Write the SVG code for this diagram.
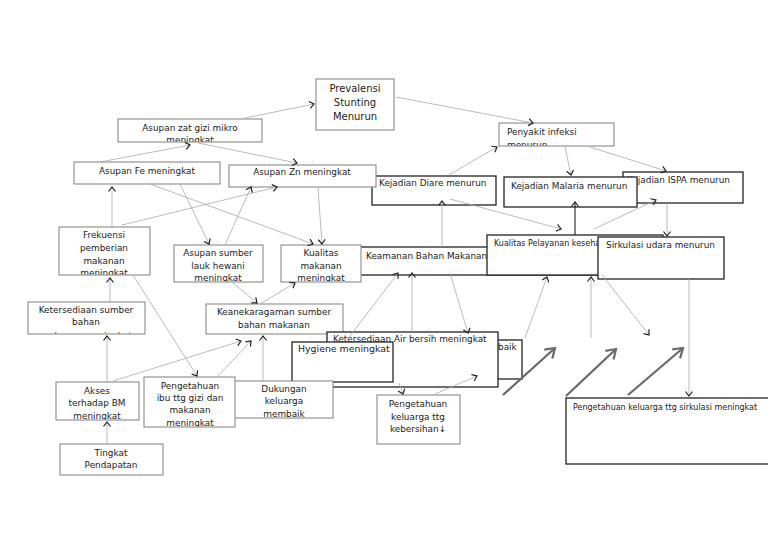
<svg xmlns="http://www.w3.org/2000/svg" width="768" height="543" viewBox="0 0 768 543">
<style>
.g{fill:#fff;stroke:#8a8a8a;stroke-width:1.1}
.k{fill:#fff;stroke:#222;stroke-width:1.3}
.t{font-family:"DejaVu Sans",Verdana,sans-serif;font-size:8.9px;fill:#222}
.c{text-anchor:middle}
.s{font-size:8px}
.ln{stroke:#aaa;stroke-width:0.8;fill:none;marker-end:url(#a)}
.lk{stroke:#222;stroke-width:1.1;fill:none;marker-end:url(#a)}
.th{stroke:#6a6a6a;stroke-width:2.3;fill:none;marker-end:url(#b)}
</style>
<defs>
<marker id="a" viewBox="-6 -5 7 10" refX="0" refY="0" markerWidth="7" markerHeight="10" markerUnits="userSpaceOnUse" orient="auto">
<path d="M-4.5,-3.5 L0,0 L-4.5,3.5" fill="none" stroke="#222" stroke-width="1.2"/>
</marker>
<marker id="b" viewBox="-11 -8 13 16" refX="0" refY="0" markerWidth="13" markerHeight="16" markerUnits="userSpaceOnUse" orient="auto">
<path d="M-9,-6 L0,0 L-9,6" fill="none" stroke="#6a6a6a" stroke-width="2.2"/>
</marker>
<clipPath id="cZat"><rect x="118" y="119" width="144" height="22.5"/></clipPath>
<clipPath id="cPen"><rect x="499" y="123" width="115" height="22.5"/></clipPath>
<clipPath id="cFrek"><rect x="59" y="227" width="91" height="47.5"/></clipPath>
<clipPath id="cLauk"><rect x="174" y="245" width="89" height="36.5"/></clipPath>
<clipPath id="cKual"><rect x="281" y="245" width="80" height="36.5"/></clipPath>
<clipPath id="cKet"><rect x="28" y="302" width="117" height="31.5"/></clipPath>
<clipPath id="cAks"><rect x="56" y="382" width="83" height="37.5"/></clipPath>
<clipPath id="cIbu"><rect x="144" y="377" width="91" height="49.5"/></clipPath>
<clipPath id="cDuk"><rect x="230" y="381" width="103" height="36.5"/></clipPath>
</defs>
<rect width="768" height="543" fill="#fff"/>

<g id="prevalensi"><rect class="g" x="316" y="79" width="78" height="51"/>
<text class="t c" x="355" y="92" style="font-size:10px">Prevalensi</text>
<text class="t c" x="355" y="106" style="font-size:10px">Stunting</text>
<text class="t c" x="355" y="120" style="font-size:10px">Menurun</text></g>

<g id="zatgizi"><rect class="g" x="118" y="119" width="144" height="23"/>
<g clip-path="url(#cZat)"><text class="t c" x="190" y="131">Asupan zat gizi mikro</text>
<text class="t c" x="190" y="143">meningkat</text></g></g>

<g id="fe"><rect class="g" x="74" y="162" width="146" height="22"/>
<text class="t c" x="147" y="174">Asupan Fe meningkat</text></g>

<g id="penyakit"><rect class="g" x="499" y="123" width="115" height="23"/>
<g clip-path="url(#cPen)"><text class="t" x="507" y="135">Penyakit infeksi</text>
<text class="t" x="507" y="148">menurun</text></g></g>

<g id="diare"><rect class="k" x="372" y="176" width="124" height="29"/>
<text class="t" x="379" y="186">Kejadian Diare menurun</text></g>

<g id="zn"><rect class="g" x="229" y="165" width="147" height="22"/>
<text class="t c" x="302" y="175">Asupan Zn meningkat</text></g>

<g id="ispa"><rect class="k" x="623" y="172" width="120" height="31"/>
<text class="t" x="627" y="183">Kejadian ISPA menurun</text></g>

<g id="malaria"><rect class="k" x="504" y="177" width="133" height="30"/>
<text class="t" x="511" y="189">Kejadian Malaria menurun</text></g>

<g id="frekuensi"><rect class="g" x="59" y="227" width="91" height="48"/>
<g clip-path="url(#cFrek)"><text class="t c" x="104" y="238">Frekuensi</text>
<text class="t c" x="104" y="251">pemberian</text>
<text class="t c" x="104" y="264">makanan</text>
<text class="t c" x="104" y="276">meningkat</text></g></g>

<g id="lauk"><rect class="g" x="174" y="245" width="89" height="37"/>
<g clip-path="url(#cLauk)"><text class="t c" x="218" y="256">Asupan sumber</text>
<text class="t c" x="218" y="269">lauk hewani</text>
<text class="t c" x="218" y="281">meningkat</text></g></g>

<g id="keamanan"><rect class="k" x="345" y="247" width="255" height="28"/>
<text class="t" x="366" y="259">Keamanan Bahan Makanan</text></g>

<g id="kualitas"><rect class="g" x="281" y="245" width="80" height="37"/>
<g clip-path="url(#cKual)"><text class="t c" x="321" y="256">Kualitas</text>
<text class="t c" x="321" y="269">makanan</text>
<text class="t c" x="321" y="281">meningkat</text></g></g>

<g id="pelayanan"><rect class="k" x="487" y="235" width="176" height="40"/>
<text class="t s" x="494" y="246">Kualitas Pelayanan kesehatan</text></g>

<g id="sirkulasi"><rect class="k" x="598" y="237" width="126" height="42"/>
<text class="t" x="606" y="248">Sirkulasi udara menurun</text></g>

<g id="ketsumber"><rect class="g" x="28" y="302" width="117" height="32"/>
<g clip-path="url(#cKet)"><text class="t c" x="86" y="313">Ketersediaan sumber</text>
<text class="t c" x="86" y="325">bahan</text>
<text class="t c" x="86" y="339">makanan meningkat</text></g></g>

<g id="keaneka"><rect class="g" x="206" y="304" width="137" height="30"/>
<text class="t c" x="274" y="315">Keanekaragaman sumber</text>
<text class="t c" x="274" y="328">bahan makanan</text></g>

<g id="baik"><rect class="k" x="420" y="340" width="102" height="39"/>
<text class="t" x="498" y="350">baik</text></g>

<g id="air"><rect class="k" x="327" y="332" width="171" height="55"/>
<text class="t" x="333" y="342">Ketersediaan Air bersih meningkat</text></g>

<g id="hygiene"><rect class="k" x="292" y="342" width="101" height="40"/>
<text class="t" x="298" y="352" style="font-size:9.4px">Hygiene meningkat</text></g>

<g id="akses"><rect class="g" x="56" y="382" width="83" height="38"/>
<g clip-path="url(#cAks)"><text class="t c" x="97" y="394">Akses</text>
<text class="t c" x="97" y="406">terhadap BM</text>
<text class="t c" x="97" y="419">meningkat</text></g></g>

<g id="dukungan"><rect class="g" x="230" y="381" width="103" height="37"/>
<g clip-path="url(#cDuk)"><text class="t c" x="284" y="392">Dukungan</text>
<text class="t c" x="284" y="404">keluarga</text>
<text class="t c" x="284" y="417">membaik</text></g></g>

<g id="pengibu"><rect class="g" x="144" y="377" width="91" height="50"/>
<g clip-path="url(#cIbu)"><text class="t c" x="190" y="389">Pengetahuan</text>
<text class="t c" x="190" y="401">ibu ttg gizi dan</text>
<text class="t c" x="190" y="413">makanan</text>
<text class="t c" x="190" y="426">meningkat</text></g></g>

<g id="tingkat"><rect class="g" x="60" y="444" width="103" height="31"/>
<text class="t c" x="111" y="456">Tingkat</text>
<text class="t c" x="111" y="468">Pendapatan</text></g>

<g id="pengkeb"><rect class="g" x="377" y="395" width="83" height="49"/>
<text class="t c" x="418" y="407">Pengetahuan</text>
<text class="t c" x="418" y="420">keluarga ttg</text>
<text class="t c" x="418" y="432">kebersihan↓</text></g>

<g id="pengsirk"><rect class="k" x="566" y="398" width="206" height="66"/>
<text class="t s" x="573" y="410">Pengetahuan keluarga ttg sirkulasi meningkat</text></g>

<g id="connectors">
<line class="ln" x1="245" y1="118" x2="314" y2="104"/>
<line class="ln" x1="396" y1="97" x2="533" y2="123"/>
<line class="ln" x1="100" y1="162" x2="190" y2="145"/>
<line class="ln" x1="198" y1="143" x2="297" y2="163"/>
<line class="ln" x1="565" y1="147" x2="571" y2="175"/>
<line class="ln" x1="590" y1="147" x2="666" y2="171"/>
<line class="ln" x1="447" y1="176" x2="497" y2="147"/>
<line class="ln" x1="442" y1="247" x2="442" y2="201"/>
<line class="ln" x1="450" y1="199" x2="561" y2="229"/>
<line class="lk" x1="575" y1="235" x2="575" y2="202"/>
<line class="ln" x1="594" y1="229" x2="656" y2="200"/>
<line class="ln" x1="667" y1="203" x2="667" y2="236"/>
<line class="ln" x1="112" y1="227" x2="112" y2="187"/>
<line class="ln" x1="122" y1="225" x2="277" y2="187"/>
<line class="ln" x1="225" y1="245" x2="251" y2="187"/>
<line class="ln" x1="180" y1="184" x2="209" y2="244"/>
<line class="ln" x1="150" y1="184" x2="313" y2="244"/>
<line class="ln" x1="318" y1="188" x2="322" y2="244"/>
<line class="ln" x1="110" y1="302" x2="110" y2="278"/>
<line class="ln" x1="133" y1="275" x2="197" y2="376"/>
<line class="ln" x1="232" y1="282" x2="257" y2="303"/>
<line class="ln" x1="260" y1="304" x2="295" y2="283"/>
<line class="ln" x1="107" y1="382" x2="107" y2="336"/>
<line class="ln" x1="107" y1="444" x2="107" y2="422"/>
<line class="ln" x1="113" y1="381" x2="241" y2="341"/>
<line class="ln" x1="217" y1="377" x2="251" y2="341"/>
<line class="ln" x1="263" y1="381" x2="263" y2="336"/>
<line class="ln" x1="347" y1="340" x2="398" y2="273"/>
<line class="ln" x1="412" y1="332" x2="412" y2="273"/>
<line class="ln" x1="450" y1="273" x2="468" y2="333"/>
<line class="ln" x1="525" y1="338" x2="547" y2="277"/>
<line class="ln" x1="591" y1="338" x2="591" y2="277"/>
<line class="ln" x1="602" y1="275" x2="649" y2="335"/>
<line class="ln" x1="689" y1="279" x2="689" y2="396"/>
<line class="ln" x1="399" y1="383" x2="403" y2="394"/>
<line class="ln" x1="435" y1="394" x2="477" y2="376"/>
<line class="th" x1="503" y1="395" x2="555" y2="348"/>
<line class="th" x1="566" y1="396" x2="616" y2="349"/>
<line class="th" x1="628" y1="395" x2="683" y2="348"/>
</g>
</svg>
